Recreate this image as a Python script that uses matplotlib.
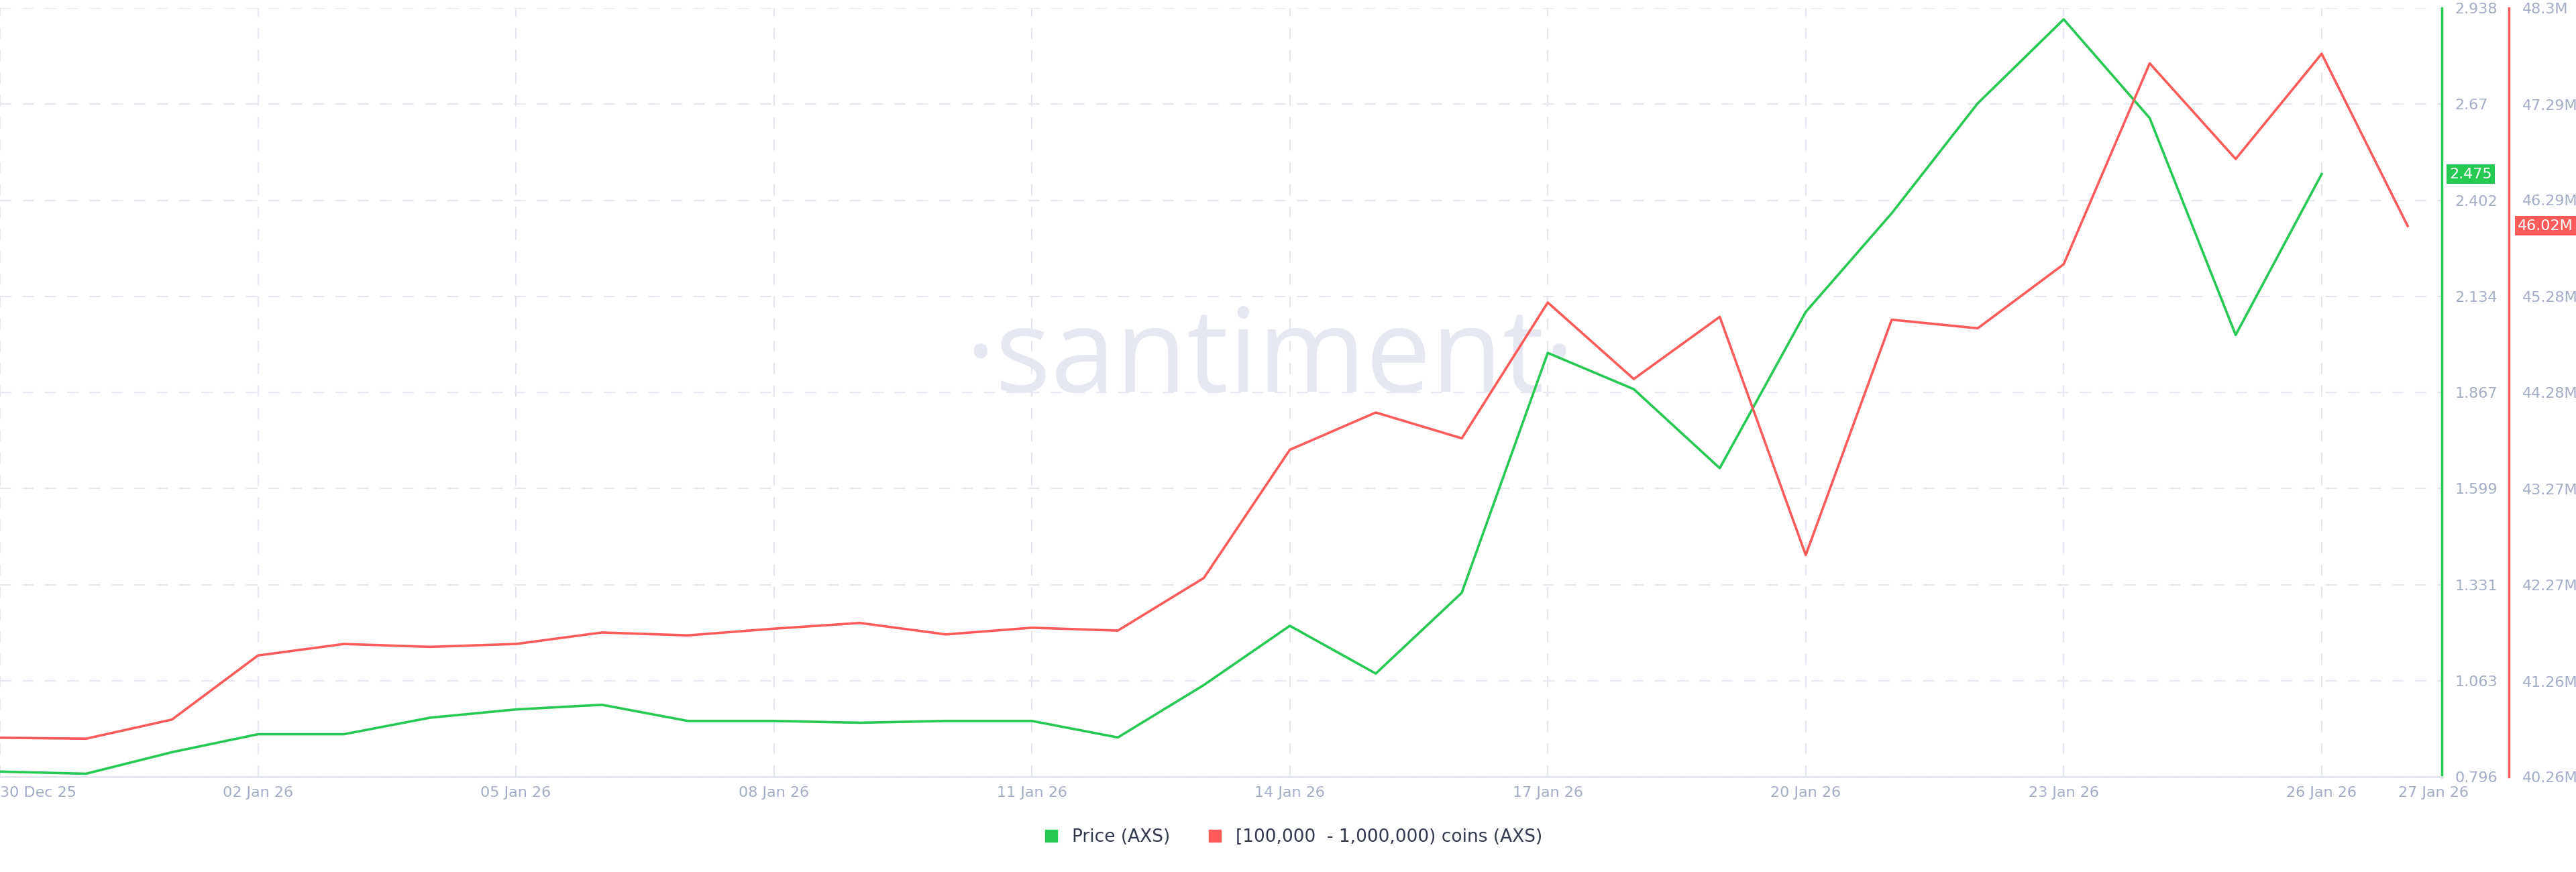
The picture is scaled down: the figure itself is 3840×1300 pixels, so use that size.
import matplotlib.pyplot as plt
from matplotlib.lines import Line2D

# daily points, day 0 = 30 Dec 25
price = [0.811, 0.805, 0.865, 0.915, 0.915, 0.961, 0.984, 0.997, 0.952, 0.952,
         0.947, 0.952, 0.952, 0.906, 1.052, 1.217, 1.084, 1.309, 1.977, 1.876,
         1.656, 2.091, 2.366, 2.672, 2.906, 2.631, 2.027, 2.475]
holders = [40.67, 40.66, 40.86, 41.53, 41.65, 41.62, 41.65, 41.77, 41.74, 41.81,
           41.87, 41.75, 41.82, 41.79, 42.34, 43.68, 44.07, 43.80, 45.22, 44.42,
           45.07, 42.58, 45.04, 44.95, 45.62, 47.72, 46.72, 47.82, 46.02]
date_ticks = [0, 3, 6, 9, 12, 15, 18, 21, 24, 27]
date_labels = ["30 Dec 25", "02 Jan 26", "05 Jan 26", "08 Jan 26", "11 Jan 26", "14 Jan 26",
               "17 Jan 26", "20 Jan 26", "23 Jan 26", "26 Jan 26"]
last_date = "27 Jan 26"
price_ticks = [0.796, 1.063, 1.331, 1.599, 1.867, 2.134, 2.402, 2.67, 2.938]
holder_ticks = [40.26, 41.26, 42.27, 43.27, 44.28, 45.28, 46.29, 47.29, 48.3]

GREEN = "#26c953"
RED = "#ff5b5b"
GRID = "#e4e7f0"
TEXT = "#a3adc6"

fig = plt.figure(figsize=(38.4, 13), dpi=100)
ax = fig.add_axes([0.0, 0.109, 0.948, 0.882])
ax2 = ax.twinx()

ax.plot(range(len(price)), price, color=GREEN, lw=2.6, zorder=3)
ax2.plot(range(len(holders)), holders, color=RED, lw=2.6, zorder=3)

ax.set_xlim(0, 28.4)
ax.set_ylim(price_ticks[0], price_ticks[-1])
ax2.set_ylim(holder_ticks[0], holder_ticks[-1])

ax.set_xticks(date_ticks)
ax.set_xticklabels(date_labels)
ax.set_xticks([28.3], [last_date], minor=True)
ax.tick_params(axis="x", which="both", length=0, labelsize=16, colors=TEXT, pad=10)
ax.get_xticklabels()[0].set_ha("left")

ax.grid(True, which="major", color=GRID, lw=1.5, ls=(0, (8, 8)))
ax.set_axisbelow(True)
ax.yaxis.tick_right()
ax.set_yticks(price_ticks)
ax.set_yticklabels([f"{t:g}" for t in price_ticks])
ax.tick_params(axis="y", length=0, labelsize=16, colors=TEXT, pad=14)

ax2.set_yticks(holder_ticks)
ax2.set_yticklabels([f"{t:g}M" for t in holder_ticks])
ax2.tick_params(axis="y", length=0, labelsize=16, colors=TEXT, pad=14)
ax2.spines["right"].set_position(("axes", 1.0275))

for a in (ax, ax2):
    for s in ("top", "left"):
        a.spines[s].set_visible(False)
ax.spines["bottom"].set_color(GRID)
ax.spines["bottom"].set_linewidth(2)
ax2.spines["bottom"].set_visible(False)
ax.spines["right"].set_color(GREEN)
ax.spines["right"].set_linewidth(2.5)
ax2.spines["right"].set_color(RED)
ax2.spines["right"].set_linewidth(2.5)

# last value badges
ax.text(1.003, price[-1], f"{price[-1]:.3f}", transform=ax.get_yaxis_transform(),
        ha="left", va="center", fontsize=16, color="white",
        bbox=dict(boxstyle="square,pad=0.2", fc=GREEN, ec="none"), zorder=5)
ax2.text(1.031, holders[-1], f"{holders[-1]:.2f}M", transform=ax2.get_yaxis_transform(),
         ha="left", va="center", fontsize=16, color="white",
         bbox=dict(boxstyle="square,pad=0.2", fc=RED, ec="none"), zorder=5)

# watermark
ax.text(0.52, 0.54, "·santiment·", transform=ax.transAxes, ha="center", va="center",
        fontsize=125, color="#e6e8f1", family="Open Sans", zorder=1)

handles = [Line2D([], [], marker="s", ls="none", color=GREEN, markersize=13),
           Line2D([], [], marker="s", ls="none", color=RED, markersize=13)]
fig.legend(handles, ["Price (AXS)", "[100,000  - 1,000,000) coins (AXS)"],
           loc="center", bbox_to_anchor=(0.5, 0.04), ncol=2, frameon=False,
           fontsize=19, handletextpad=0.2, columnspacing=1.5, labelcolor="#333a4d")

fig.savefig("out.png", dpi=100)
